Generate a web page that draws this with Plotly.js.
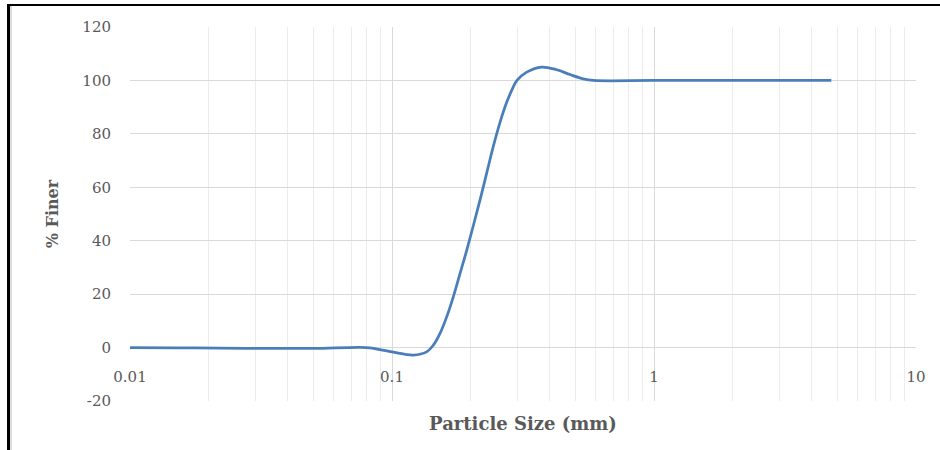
<!DOCTYPE html>
<html>
<head>
<meta charset="utf-8">
<script src="https://cdn.plot.ly/plotly-3.0.1.min.js"></script>
<style>
  html, body { margin: 0; padding: 0; background: #fff; }
  #wrap { position: relative; width: 940px; height: 450px; overflow: hidden; }
  #chart { position: absolute; left: 0; top: 0; width: 940px; height: 450px; }
  #frame { position: absolute; left: 7px; top: 4px; width: 960px; height: 470px;
           border-left: 3px solid #000; border-top: 2px solid #000; pointer-events: none; }
  #inner { position: absolute; left: 10px; top: 6px; width: 0; height: 460px;
           border-left: 2px solid #dcdcdc; pointer-events: none; }
</style>
</head>
<body>
<div id="wrap">
  <div id="chart"></div>
  <div id="frame"></div>
  <div id="inner"></div>
</div>
<script>
// Particle size (mm)
var particleSize = [0.01, 0.015, 0.022, 0.034, 0.05, 0.075, 0.0824, 0.1, 0.1206, 0.1356,
                    0.1438, 0.1525, 0.1617, 0.1714, 0.1818, 0.1928, 0.2168, 0.2298, 0.2436,
                    0.2584, 0.274, 0.2904, 0.3, 0.3266, 0.3725, 0.425, 0.478, 0.537, 0.587,
                    1, 2, 4.75];
// % finer
var percentFiner = [0, -0.1, -0.2, -0.3, -0.3, 0.1, -0.1, -1.6, -2.8, -1.6,
                    0.9, 5.3, 11.5, 19.0, 27.7, 36.4, 55.3, 65.3, 75.3,
                    84.3, 91.8, 97.6, 100, 103.1, 105.0, 104.0, 102.2, 100.6, 100,
                    100, 100, 100];

var xTickVals = [0.01, 0.1, 1, 10];
var xTickText = ['0.01', '0.1', '1', '10'];
var yTickVals = [-20, 0, 20, 40, 60, 80, 100, 120];
var yTickText = ['-20', '0', '20', '40', '60', '80', '100', '120'];

var tickFont = {family: 'DejaVu Serif', size: 15, color: '#595959'};
var titleFont = {family: 'DejaVu Serif', size: 18, color: '#595959', weight: 'bold'};

var trace = {
  x: particleSize,
  y: percentFiner,
  type: 'scatter',
  mode: 'lines',
  line: {color: '#4a7ebb', width: 2.75, shape: 'spline', smoothing: 1},
  hoverinfo: 'x+y'
};

var layout = {
  width: 940,
  height: 450,
  margin: {l: 130, r: 24, t: 26.5, b: 49},
  paper_bgcolor: 'rgba(0,0,0,0)',
  plot_bgcolor: '#ffffff',
  showlegend: false,
  xaxis: {
    type: 'log',
    range: [-2, 1],
    tickmode: 'array',
    tickvals: xTickVals,
    ticktext: xTickText,
    anchor: 'free',
    position: 20 / 140,
    showline: false,
    zeroline: false,
    showgrid: true,
    gridcolor: '#d9d9d9',
    gridwidth: 1,
    ticks: '',
    ticklabelstandoff: 18,
    tickfont: tickFont,
    minor: {dtick: 'D1', showgrid: true, gridcolor: '#ececec', gridwidth: 1, ticks: ''},
    title: {text: 'Particle Size (mm)', font: titleFont, standoff: 32},
    automargin: false
  },
  yaxis: {
    range: [-20, 120],
    tickmode: 'array',
    tickvals: yTickVals,
    ticktext: yTickText,
    showline: false,
    zeroline: false,
    showgrid: true,
    gridcolor: '#d9d9d9',
    gridwidth: 1,
    ticks: '',
    ticklabelstandoff: 18,
    tickfont: tickFont,
    title: {text: '% Finer', font: {family: 'DejaVu Serif', size: 16, color: '#595959', weight: 'bold'}, standoff: 19},
    automargin: false
  }
};

Plotly.newPlot('chart', [trace], layout, {displayModeBar: false, staticPlot: true});
</script>
</body>
</html>
